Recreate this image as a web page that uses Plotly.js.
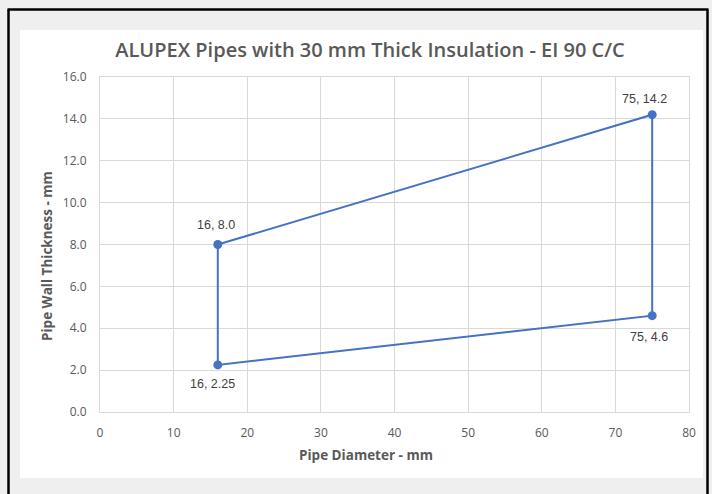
<!DOCTYPE html>
<html>
<head>
<meta charset="utf-8">
<script src="https://cdn.plot.ly/plotly-3.0.1.min.js"></script>
<style>html,body{margin:0;padding:0;background:#efefef;}#chart{width:712px;height:494px;}</style>
</head>
<body>
<div id="chart"></div>
<script>
const diameter = [16, 75, 75, 16];
const thickness = [8.0, 14.2, 4.6, 2.25];
const pointLabels = ["16, 8.0", "75, 14.2", "75, 4.6", "16, 2.25"];
const xTicks = [0, 10, 20, 30, 40, 50, 60, 70, 80];
const yTicks = [0, 2, 4, 6, 8, 10, 12, 14, 16];
const xTitle = "Pipe Diameter - mm";
const yTitle = "Pipe Wall Thickness - mm";

const blue = "#4472C4";
const grey = "#595959";

const outline = {
  x: diameter.concat([diameter[0]]),
  y: thickness.concat([thickness[0]]),
  mode: "lines",
  line: {color: blue, width: 2},
  hoverinfo: "skip",
  showlegend: false
};
const pts = {
  x: diameter,
  y: thickness,
  mode: "markers",
  marker: {color: blue, size: 9},
  showlegend: false
};

// label offsets (pixels) relative to each point
const labelShiftX = [-2, -8, -3, -5];
const labelShiftY = [20, 16, -21, -19];

const L = 100, R = 689, T = 77, B = 412;
const px = v => (v - L) / (R - L);
const py = v => (B - v) / (B - T);

const annotations = diameter.map((d, i) => ({
  x: d, y: thickness[i], xref: "x", yref: "y",
  text: pointLabels[i], showarrow: false,
  xshift: labelShiftX[i], yshift: labelShiftY[i],
  font: {family: "Liberation Sans, Arial, sans-serif", size: 12.5, color: "#404040"}
}));
annotations.push({
  xref: "paper", yref: "paper", x: px(366), y: py(455),
  xanchor: "center", yanchor: "middle", showarrow: false, text: xTitle,
  font: {family: "Open Sans, sans-serif", size: 13.5, color: grey, weight: 700}
});
annotations.push({
  xref: "paper", yref: "paper", x: px(47), y: py(256), textangle: -90,
  xanchor: "center", yanchor: "middle", showarrow: false, text: yTitle,
  font: {family: "Open Sans, sans-serif", size: 13.5, color: grey, weight: 700}
});

const layout = {
  width: 712, height: 494,
  margin: {l: L, r: 712 - R, t: T, b: 494 - B},
  paper_bgcolor: "#efefef",
  plot_bgcolor: "#ffffff",
  title: {
    text: "ALUPEX Pipes with 30 mm Thick Insulation - EI 90 C/C",
    font: {family: "Open Sans, sans-serif", size: 20, color: grey, weight: 600},
    x: 370 / 712, xref: "container", xanchor: "center",
    y: 1 - 50 / 494, yref: "container", yanchor: "middle"
  },
  xaxis: {
    range: [0, 80], tickvals: xTicks, ticktext: xTicks.map(String),
    showgrid: true, gridcolor: "#d9d9d9", gridwidth: 1, zeroline: false,
    showline: true, linecolor: "#d9d9d9", mirror: true, ticks: "",
    ticklabelstandoff: 10,
    tickfont: {family: "Open Sans, sans-serif", size: 12, color: grey}
  },
  yaxis: {
    range: [0, 16], tickvals: yTicks, ticktext: yTicks.map(v => v.toFixed(1)),
    showgrid: true, gridcolor: "#d9d9d9", gridwidth: 1, zeroline: false,
    showline: true, linecolor: "#d9d9d9", mirror: true, ticks: "",
    ticklabelstandoff: 10,
    tickfont: {family: "Open Sans, sans-serif", size: 12, color: grey}
  },
  annotations: annotations,
  shapes: [
    {type: "rect", xref: "paper", yref: "paper", layer: "below",
     x0: px(20), x1: px(703), y0: py(478), y1: py(30),
     fillcolor: "#ffffff", line: {width: 0}},
    {type: "line", xref: "paper", yref: "paper", x0: px(8.5), x1: px(8.5), y0: py(9.5), y1: py(500), line: {color: "#000000", width: 2.5}},
    {type: "line", xref: "paper", yref: "paper", x0: px(7.5), x1: px(708.5), y0: py(9.5), y1: py(9.5), line: {color: "#000000", width: 2.5}},
    {type: "line", xref: "paper", yref: "paper", x0: px(707.5), x1: px(707.5), y0: py(9.5), y1: py(500), line: {color: "#000000", width: 2.5}}
  ]
};

Plotly.newPlot("chart", [outline, pts], layout, {displayModeBar: false, staticPlot: true});
</script>
</body>
</html>
